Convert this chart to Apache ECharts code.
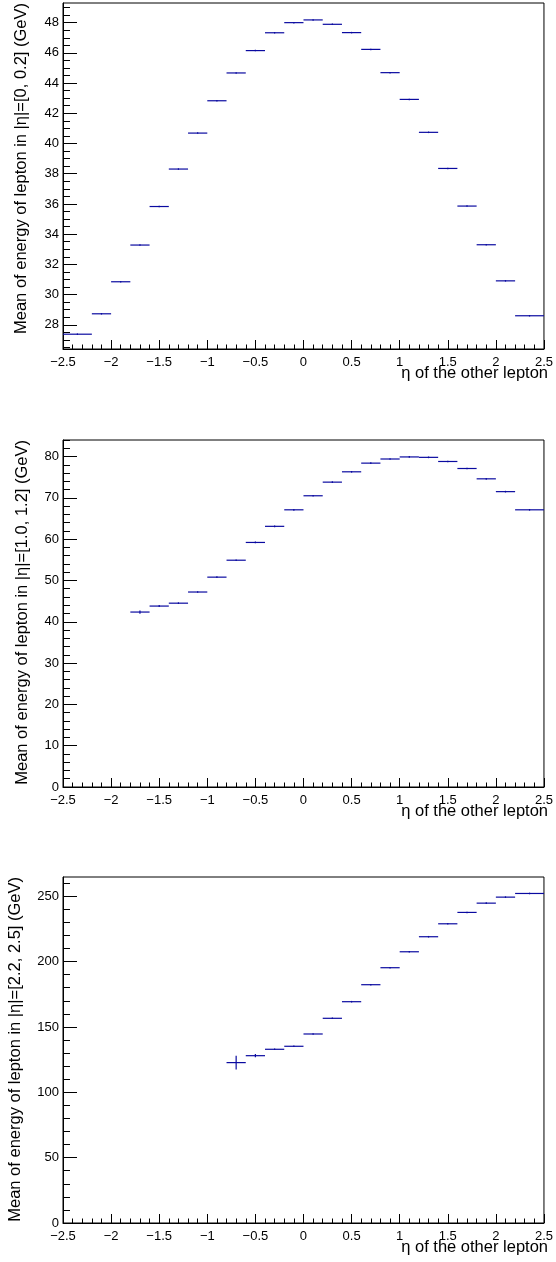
<!DOCTYPE html>
<html>
<head>
<meta charset="utf-8">
<script src="https://cdn.jsdelivr.net/npm/echarts@6/dist/echarts.min.js"></script>
<style>
  html, body { margin: 0; padding: 0; background: #fff; }
  #main { width: 556px; height: 1262px; }
</style>
</head>
<body>
<div id="main"></div>
<script>
// bin edges of eta of the other lepton
let binEdges = [-2.5, -2.2, -2.0, -1.8, -1.6, -1.4, -1.2, -1.0, -0.8, -0.6, -0.4, -0.2, 0.0,
                0.2, 0.4, 0.6, 0.8, 1.0, 1.2, 1.4, 1.6, 1.8, 2.0, 2.2, 2.5]

// |eta| = [0, 0.2]
let mean1 = [27.38, 28.73, 30.85, 33.28, 35.83, 38.31, 40.69, 42.83, 44.67, 46.15, 47.33, 48.00,
             48.18, 47.89, 47.34, 46.23, 44.69, 42.92, 40.74, 38.35, 35.86, 33.30, 30.91, 28.60]
let err1 = [0.05, 0.05, 0.05, 0.05, 0.05, 0.05, 0.05, 0.05, 0.05, 0.05, 0.05, 0.05,
            0.05, 0.05, 0.05, 0.05, 0.05, 0.05, 0.05, 0.05, 0.05, 0.05, 0.05, 0.05]

// |eta| = [1.0, 1.2]
let mean2 = [null, null, null, 42.35, 43.8, 44.5, 47.2, 50.8, 54.9, 59.2, 63.1, 67.1,
             70.5, 73.8, 76.3, 78.4, 79.4, 79.9, 79.8, 78.8, 77.1, 74.6, 71.5, 67.1]
let err2 = [0, 0, 0, 0.4, 0.25, 0.2, 0.2, 0.2, 0.2, 0.2, 0.2, 0.2,
            0.2, 0.2, 0.2, 0.2, 0.2, 0.2, 0.2, 0.2, 0.2, 0.2, 0.2, 0.2]

// |eta| = [2.2, 2.5]
let mean3 = [null, null, null, null, null, null, null, null, 122.7, 128.0, 132.9, 135.2,
             144.6, 156.6, 169.3, 182.3, 195.3, 207.5, 219.0, 228.9, 237.6, 244.7, 249.3, 252.1]
let err3 = [0, 0, 0, 0, 0, 0, 0, 0, 5.2, 1.2, 0.6, 0.6,
            0.6, 0.6, 0.6, 0.6, 0.6, 0.6, 0.6, 0.6, 0.6, 0.6, 0.6, 0.6]

let xTicks = [-2.5, -2, -1.5, -1, -0.5, 0, 0.5, 1, 1.5, 2, 2.5]
let yTicks1 = [28, 30, 32, 34, 36, 38, 40, 42, 44, 46, 48]
let yTicks2 = [0, 10, 20, 30, 40, 50, 60, 70, 80]
let yTicks3 = [0, 50, 100, 150, 200, 250]

let yTitles = [
    'Mean of energy of lepton in |\u03b7|=[0, 0.2] (GeV)',
    'Mean of energy of lepton in |\u03b7|=[1.0, 1.2] (GeV)',
    'Mean of energy of lepton in |\u03b7|=[2.2, 2.5] (GeV)'
]
let xTitle = '\u03b7 of the other lepton'

let fontFamily = '"Liberation Sans", Arial, Helvetica, sans-serif'
let lineColor = '#0a0aa0'

let panels = [
    { top: 3,   height: 346, min: 26.4, max: 49.3,  major: yTicks1, step: 0.5, mean: mean1, err: err1, titleX: 21 },
    { top: 440, height: 347, min: 0,    max: 84,    major: yTicks2, step: 2,   mean: mean2, err: err2, titleX: 22 },
    { top: 877, height: 346, min: 0,    max: 264.7, major: yTicks3, step: 10,  mean: mean3, err: err3, titleX: 15 }
]

function minusSign(v) {
    return String(v).replace('-', '\u2212')
}

function minorTicks(min, max, step) {
    let out = []
    for (let v = Math.ceil(min / step) * step; v <= max + 1e-9; v += step) {
        out.push(Math.round(v * 1000) / 1000)
    }
    return out
}

function renderBin(params, api) {
    let lo = api.value(0)
    let hi = api.value(1)
    let v = api.value(2)
    let e = api.value(3)
    let a = api.coord([lo, v])
    let b = api.coord([hi, v])
    let mid = (lo + hi) / 2
    let t = api.coord([mid, v + e])
    let u = api.coord([mid, v - e])
    let style = { stroke: lineColor, lineWidth: 1.2, fill: null }
    return {
        type: 'group',
        children: [
            { type: 'line', shape: { x1: a[0], y1: a[1], x2: b[0], y2: b[1] }, style: style },
            { type: 'line', shape: { x1: t[0], y1: t[1], x2: u[0], y2: u[1] }, style: style }
        ]
    }
}

let grid = []
let xAxis = []
let yAxis = []
let series = []
let graphic = []

panels.forEach(function (p, i) {
    grid.push({
        left: 63, width: 485, top: p.top, height: p.height,
        show: true, borderColor: '#000', borderWidth: 1, backgroundColor: 'transparent'
    })

    xAxis.push({
        type: 'value', gridIndex: i, position: 'bottom',
        min: -2.5, max: 2.5, interval: 0.5,
        axisLine: { show: true, onZero: false, lineStyle: { color: '#000', width: 1 } },
        axisTick: { show: true, inside: true, length: 9, customValues: xTicks, lineStyle: { color: '#000' } },
        minorTick: { show: true, splitNumber: 5, length: 4.5, lineStyle: { color: '#000' } },
        splitLine: { show: false },
        axisLabel: {
            show: true, margin: 7, color: '#000', fontSize: 13, fontFamily: fontFamily,
            customValues: xTicks,
            formatter: minusSign
        }
    })

    // major ticks and labels
    yAxis.push({
        type: 'value', gridIndex: i, position: 'left',
        min: p.min, max: p.max,
        axisLine: { show: true, onZero: false, lineStyle: { color: '#000', width: 1 } },
        axisTick: { show: true, inside: true, length: 14, customValues: p.major, lineStyle: { color: '#000' } },
        splitLine: { show: false },
        axisLabel: {
            show: true, margin: 4, color: '#000', fontSize: 13, fontFamily: fontFamily,
            customValues: p.major
        }
    })
    // minor ticks
    yAxis.push({
        type: 'value', gridIndex: i, position: 'left',
        min: p.min, max: p.max,
        axisLine: { show: false, onZero: false },
        axisTick: { show: true, inside: true, length: 7, customValues: minorTicks(p.min, p.max, p.step), lineStyle: { color: '#000' } },
        splitLine: { show: false },
        axisLabel: { show: false }
    })

    let data = []
    p.mean.forEach(function (v, k) {
        if (v === null) return
        data.push([binEdges[k], binEdges[k + 1], v, p.err[k]])
    })

    series.push({
        type: 'custom',
        coordinateSystem: 'cartesian2d',
        xAxisIndex: i,
        yAxisIndex: i * 2,
        renderItem: renderBin,
        silent: true,
        data: data
    })

    graphic.push({
        type: 'text',
        x: p.titleX, y: p.top,
        rotation: Math.PI / 2,
        style: {
            text: yTitles[i], fill: '#000', fontSize: 16.5, fontFamily: fontFamily,
            align: 'right', verticalAlign: 'middle'
        }
    })
    graphic.push({
        type: 'text',
        x: 548, y: p.top + p.height + 24,
        style: {
            text: xTitle, fill: '#000', fontSize: 16.5, fontFamily: fontFamily,
            align: 'right', verticalAlign: 'middle'
        }
    })
})

let option = {
    animation: false,
    backgroundColor: '#fff',
    grid: grid,
    xAxis: xAxis,
    yAxis: yAxis,
    series: series,
    graphic: graphic
}

let myChart = echarts.init(document.getElementById('main'), null, { renderer: 'canvas' })
myChart.setOption(option)
</script>
</body>
</html>
